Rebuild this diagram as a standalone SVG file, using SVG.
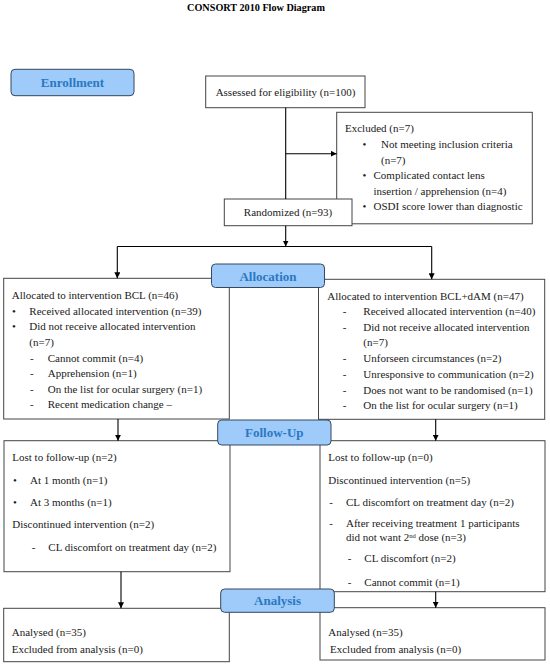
<svg xmlns="http://www.w3.org/2000/svg" width="550" height="668" viewBox="0 0 550 668">
<style>
text{font-family:"Liberation Serif","DejaVu Serif",serif;font-size:11px;fill:#1a1a1a}
.title{font-weight:bold;font-size:10.2px;fill:#000}
.box{fill:#fff;stroke:#444;stroke-width:1}
.lab{fill:#9ecbf9;stroke:#34495e;stroke-width:1}
.labt{font-weight:bold;font-size:13px;fill:#2b78c2;text-anchor:middle}
.con{stroke:#000;stroke-width:1.1;fill:none}
.mid{text-anchor:middle}
</style>
<defs>
<marker id="arr" markerWidth="6" markerHeight="6" refX="6" refY="3" orient="auto" markerUnits="userSpaceOnUse">
<path d="M0,0 L6,3 L0,6 z" fill="#000"/>
</marker>
</defs>
<rect width="550" height="668" fill="#fff"/>
<text class="title mid" x="256" y="11">CONSORT 2010 Flow Diagram</text>

<g id="assessed">
<rect class="box" x="205.7" y="76" width="159.3" height="31.7"/>
<text class="mid" x="285.5" y="95.5">Assessed for eligibility (n=100)</text>
</g>
<g id="excluded">
<rect class="box" x="336.7" y="112.3" width="195.6" height="111.5"/>
<text x="345" y="131.5">Excluded (n=7)</text>
<text x="362.5" y="148">•</text><text x="381" y="148">Not meeting inclusion criteria</text>
<text x="381" y="163.5">(n=7)</text>
<text x="362.5" y="179">•</text><text x="373.5" y="179">Complicated contact lens</text>
<text x="373.5" y="194.5">insertion / apprehension (n=4)</text>
<text x="362.5" y="210">•</text><text x="373.5" y="210">OSDI score lower than diagnostic</text>
</g>
<g id="randomized">
<rect class="box" x="224.3" y="199" width="127.7" height="26.7"/>
<text class="mid" x="288" y="216">Randomized (n=93)</text>
</g>

<g id="alloc-left">
<rect class="box" x="3.7" y="278.3" width="225.6" height="140.7"/>
<text x="11.7" y="299">Allocated to intervention BCL (n=46)</text>
<text x="12" y="314.5">•</text><text x="29.3" y="314.5">Received allocated intervention (n=39)</text>
<text x="12" y="330">•</text><text x="29.3" y="330">Did not receive allocated intervention</text>
<text x="29.3" y="346">(n=7)</text>
<text x="30" y="361.5">-</text><text x="47.7" y="361.5">Cannot commit (n=4)</text>
<text x="30" y="377">-</text><text x="47.7" y="377">Apprehension (n=1)</text>
<text x="30" y="392.5">-</text><text x="47.7" y="392.5">On the list for ocular surgery (n=1)</text>
<text x="30" y="408">-</text><text x="47.7" y="408">Recent medication change –</text>
</g>
<g id="alloc-right">
<rect class="box" x="318.5" y="279.3" width="226.2" height="140"/>
<text x="327.3" y="299.5">Allocated to intervention BCL+dAM (n=47)</text>
<text x="342.7" y="315">-</text><text x="363.3" y="315">Received allocated intervention (n=40)</text>
<text x="342.7" y="331">-</text><text x="363.3" y="331">Did not receive allocated intervention</text>
<text x="363.3" y="346">(n=7)</text>
<text x="342.7" y="362">-</text><text x="363.3" y="362">Unforseen circumstances (n=2)</text>
<text x="342.7" y="378">-</text><text x="363.3" y="378">Unresponsive to communication (n=2)</text>
<text x="342.7" y="393.5">-</text><text x="363.3" y="393.5">Does not want to be randomised (n=1)</text>
<text x="342.7" y="409">-</text><text x="363.3" y="409">On the list for ocular surgery (n=1)</text>
</g>

<g id="follow-left">
<rect class="box" x="4" y="440.7" width="226" height="131"/>
<text x="12.3" y="461">Lost to follow-up (n=2)</text>
<text x="13" y="483.5">•</text><text x="30" y="483.5">At 1 month (n=1)</text>
<text x="13" y="505.5">•</text><text x="30" y="505.5">At 3 months (n=1)</text>
<text x="12.3" y="527.5">Discontinued intervention (n=2)</text>
<text x="31.7" y="550.5">-</text><text x="48.3" y="550.5">CL discomfort on treatment day (n=2)</text>
</g>
<g id="follow-right">
<rect class="box" x="320" y="440.7" width="225" height="151"/>
<text x="328.3" y="461">Lost to follow-up (n=0)</text>
<text x="328.3" y="483.5">Discontinued intervention (n=5)</text>
<text x="329.3" y="506">-</text><text x="346" y="506">CL discomfort on treatment day (n=2)</text>
<text x="329.3" y="527">-</text><text x="346" y="527">After receiving treatment 1 participants</text>
<text x="346" y="541">did not want 2<tspan font-size="6.5" dy="-3.5">nd</tspan><tspan dy="3.5"> dose (n=3)</tspan></text>
<text x="347.7" y="562">-</text><text x="364.3" y="562">CL discomfort (n=2)</text>
<text x="347.7" y="586">-</text><text x="364.3" y="586">Cannot commit (n=1)</text>
</g>

<g id="analysis-left">
<rect class="box" x="3.7" y="608.3" width="225.6" height="53.4"/>
<text x="11.7" y="636">Analysed (n=35)</text>
<text x="11.7" y="653">Excluded from analysis (n=0)</text>
</g>
<g id="analysis-right">
<rect class="box" x="320" y="607.7" width="225" height="52.3"/>
<text x="328.3" y="636">Analysed (n=35)</text>
<text x="330" y="653">Excluded from analysis (n=0)</text>
</g>

<g id="connectors">
<line class="con" x1="285.7" y1="107.7" x2="285.7" y2="199"/>
<line class="con" x1="285.7" y1="153.7" x2="336.7" y2="153.7" marker-end="url(#arr)"/>
<line class="con" x1="285.7" y1="225.7" x2="285.7" y2="246.5" marker-end="url(#arr)"/>
<line class="con" x1="117.3" y1="246.5" x2="431.7" y2="246.5"/>
<line class="con" x1="117.3" y1="246.5" x2="117.3" y2="278.3" marker-end="url(#arr)"/>
<line class="con" x1="431.7" y1="246.5" x2="431.7" y2="279.3" marker-end="url(#arr)"/>
<line class="con" x1="118" y1="419" x2="118" y2="440.7" marker-end="url(#arr)"/>
<line class="con" x1="435.7" y1="419.3" x2="435.7" y2="440.7" marker-end="url(#arr)"/>
<line class="con" x1="121" y1="571.7" x2="121" y2="608.3" marker-end="url(#arr)"/>
<line class="con" x1="435.7" y1="591.7" x2="435.7" y2="607.7" marker-end="url(#arr)"/>
</g>

<g id="enrollment">
<rect class="lab" x="11" y="69.3" width="123" height="26.4" rx="4"/>
<text class="labt" x="72.5" y="87">Enrollment</text>
</g>
<g id="allocation">
<rect class="lab" x="211.5" y="264" width="113" height="23.5" rx="4"/>
<text class="labt" x="268" y="280.5">Allocation</text>
</g>
<g id="followup">
<rect class="lab" x="217.7" y="420" width="113.3" height="25" rx="4"/>
<text class="labt" x="274.3" y="437">Follow-Up</text>
</g>
<g id="analysis">
<rect class="lab" x="220.7" y="589" width="113.6" height="23.3" rx="4"/>
<text class="labt" x="277.5" y="605">Analysis</text>
</g>
</svg>
